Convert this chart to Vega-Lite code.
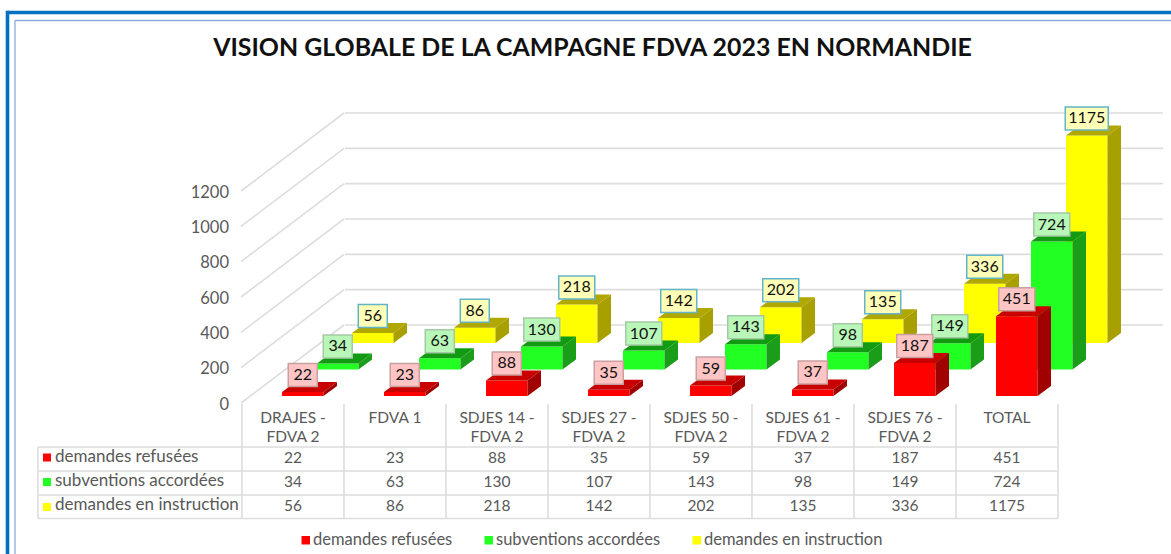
{"$schema":"https://vega.github.io/schema/vega-lite/v6.json","width":1171,"height":554,"padding":0,"autosize":{"type":"none"},"background":"#ffffff",
"title":{"text":"VISION GLOBALE DE LA CAMPAGNE FDVA 2023 EN NORMANDIE","anchor":"middle","frame":"group","offset":-61,"dx":7,"font":"Lato","fontSize":24.9,"fontWeight":"bold","color":"#111111"},
"config":{"view":{"stroke":null},"font":"Lato","text":{"font":"Lato"},"point":{"filled":true,"opacity":1,"size":4,"strokeWidth":0}},
"datasets":{
"bars":[
{"cat":"DRAJES  -\nFDVA 2","series":"demandes refusées","v":22},{"cat":"FDVA 1","series":"demandes refusées","v":23},{"cat":"SDJES 14 -\nFDVA 2","series":"demandes refusées","v":88},{"cat":"SDJES 27 -\nFDVA 2","series":"demandes refusées","v":35},{"cat":"SDJES 50 -\nFDVA 2","series":"demandes refusées","v":59},{"cat":"SDJES 61 -\nFDVA 2","series":"demandes refusées","v":37},{"cat":"SDJES 76 -\nFDVA 2","series":"demandes refusées","v":187},{"cat":"TOTAL","series":"demandes refusées","v":451}],
"greens":[
{"cat":"DRAJES  -\nFDVA 2","series":"subventions accordées","v":34},{"cat":"FDVA 1","series":"subventions accordées","v":63},{"cat":"SDJES 14 -\nFDVA 2","series":"subventions accordées","v":130},{"cat":"SDJES 27 -\nFDVA 2","series":"subventions accordées","v":107},{"cat":"SDJES 50 -\nFDVA 2","series":"subventions accordées","v":143},{"cat":"SDJES 61 -\nFDVA 2","series":"subventions accordées","v":98},{"cat":"SDJES 76 -\nFDVA 2","series":"subventions accordées","v":149},{"cat":"TOTAL","series":"subventions accordées","v":724}],
"yellows":[
{"cat":"DRAJES  -\nFDVA 2","series":"demandes en instruction","v":56},{"cat":"FDVA 1","series":"demandes en instruction","v":86},{"cat":"SDJES 14 -\nFDVA 2","series":"demandes en instruction","v":218},{"cat":"SDJES 27 -\nFDVA 2","series":"demandes en instruction","v":142},{"cat":"SDJES 50 -\nFDVA 2","series":"demandes en instruction","v":202},{"cat":"SDJES 61 -\nFDVA 2","series":"demandes en instruction","v":135},{"cat":"SDJES 76 -\nFDVA 2","series":"demandes en instruction","v":336},{"cat":"TOTAL","series":"demandes en instruction","v":1175}],
"grid":[{"v":0},{"v":200},{"v":400},{"v":600},{"v":800},{"v":1000},{"v":1200}],
"one":[{"k":1}]
},
"layer":[
{"data":{"name":"one"},"mark":{"type":"rule","color":"#0070c0","strokeWidth":3.6,"xOffset":-234.5,"x2Offset":300},"encoding":{"x":{"datum":"DRAJES  -\nFDVA 2","bandPosition":0,"type":"nominal","axis":null,"scale":{"type":"band","domain":["DRAJES  -\nFDVA 2","FDVA 1","SDJES 14 -\nFDVA 2","SDJES 27 -\nFDVA 2","SDJES 50 -\nFDVA 2","SDJES 61 -\nFDVA 2","SDJES 76 -\nFDVA 2","TOTAL"],"range":[242,1058],"paddingInner":0,"paddingOuter":0}},"x2":{"datum":"TOTAL"},"y":{"datum":2210,"type":"quantitative","axis":null,"scale":{"type":"linear","domain":[0,1200],"range":[403,191],"nice":false,"zero":false}}}},
{"data":{"name":"one"},"mark":{"type":"rule","color":"#0070c0","strokeWidth":3.6,"xOffset":-234.5},"encoding":{"x":{"datum":"DRAJES  -\nFDVA 2","bandPosition":0,"type":"nominal","axis":null},"y":{"datum":2220,"type":"quantitative","axis":null},"y2":{"datum":-1000}}},
{"data":{"name":"one"},"mark":{"type":"rule","color":"#8eaadb","strokeWidth":1.3,"xOffset":-227,"x2Offset":300},"encoding":{"x":{"datum":"DRAJES  -\nFDVA 2","bandPosition":0,"type":"nominal","axis":null},"x2":{"datum":"TOTAL"},"y":{"datum":2165,"type":"quantitative","axis":null}}},
{"data":{"name":"one"},"mark":{"type":"rule","color":"#8eaadb","strokeWidth":1.3,"xOffset":-227},"encoding":{"x":{"datum":"DRAJES  -\nFDVA 2","bandPosition":0,"type":"nominal","axis":null},"y":{"datum":2165,"type":"quantitative","axis":null},"y2":{"datum":-1000}}},

{"data":{"name":"grid"},"mark":{"type":"rule","color":"#dddddd","strokeWidth":1.6,"xOffset":-1,"x2Offset":-51},"encoding":{"x":{"datum":"DRAJES  -\nFDVA 2","bandPosition":0,"type":"nominal","axis":null},"x2":{"datum":"FDVA 1"},"y":{"field":"v","type":"quantitative","axis":null},"y2":{"value":{"expr":"scale('y',datum.v)-78"}}}},
{"data":{"name":"grid"},"mark":{"type":"rule","color":"#dddddd","strokeWidth":1.6,"yOffset":-78,"xOffset":103,"x2Offset":156},"encoding":{"x":{"datum":"DRAJES  -\nFDVA 2","bandPosition":0,"type":"nominal","axis":null},"x2":{"datum":"TOTAL"},"y":{"field":"v","type":"quantitative","axis":null}}},
{"data":{"name":"grid"},"mark":{"type":"text","font":"Lato","fontSize":16.5,"color":"#595959","align":"right","baseline":"middle","xOffset":-13,"yOffset":1.5},"encoding":{"x":{"datum":"DRAJES  -\nFDVA 2","bandPosition":0,"type":"nominal","axis":null},"y":{"field":"v","type":"quantitative","axis":null},"text":{"field":"v","type":"quantitative","format":"d"}}},

{"data":{"name":"yellows"},"mark":{"type":"bar","width":41.5,"xOffset":79.75,"yOffset":-60,"y2Offset":-60},"encoding":{"x":{"field":"cat","type":"nominal","axis":null},"y":{"field":"v","type":"quantitative","stack":null,"axis":null},"y2":{"datum":0},"color":{"field":"series","type":"nominal","scale":{"domain":["demandes refusées","subventions accordées","demandes en instruction"],"range":["#ff0000","#22ff22","#ffff00"]},"legend":{"orient":"none","legendX":297.5,"legendY":532,"direction":"horizontal","columns":3,"title":null,"symbolType":"square","symbolSize":72,"symbolStrokeWidth":0,"symbolOpacity":1,"labelFont":"Lato","labelFontSize":16.5,"labelColor":"#595959","labelLimit":300,"labelOffset":-1,"columnPadding":28,"gridAlign":"none"}}}},
{"data":{"name":"yellows"},"mark":{"type":"point","color":"#b0a800","xOffset":79.75,"yOffset":-60,"shape":"M-20.75,0L20.75,0L34.25,-10L-7.25,-10Z"},"encoding":{"x":{"field":"cat","type":"nominal","axis":null},"y":{"field":"v","type":"quantitative","axis":null}}},
{"data":{"name":"yellows"},"mark":{"type":"point","color":"#a8a000","xOffset":79.75,"yOffset":-60,"shape":{"expr":"'M20.75,0L34.25,-10L34.25,'+(scale('y',0)-scale('y',datum.v)-10)+'L20.75,'+(scale('y',0)-scale('y',datum.v))+'Z'"}},"encoding":{"x":{"field":"cat","type":"nominal","axis":null},"y":{"field":"v","type":"quantitative","axis":null}}},

{"data":{"name":"greens"},"mark":{"type":"bar","width":41.5,"xOffset":44.75,"yOffset":-33.5,"y2Offset":-33.5},"encoding":{"x":{"field":"cat","type":"nominal","axis":null},"y":{"field":"v","type":"quantitative","stack":null,"axis":null},"y2":{"datum":0},"color":{"field":"series","type":"nominal"}}},
{"data":{"name":"greens"},"mark":{"type":"point","color":"#129a12","xOffset":44.75,"yOffset":-33.5,"shape":"M-20.75,0L20.75,0L34.25,-10L-7.25,-10Z"},"encoding":{"x":{"field":"cat","type":"nominal","axis":null},"y":{"field":"v","type":"quantitative","axis":null}}},
{"data":{"name":"greens"},"mark":{"type":"point","color":"#1a9e1a","xOffset":44.75,"yOffset":-33.5,"shape":{"expr":"'M20.75,0L34.25,-10L34.25,'+(scale('y',0)-scale('y',datum.v)-10)+'L20.75,'+(scale('y',0)-scale('y',datum.v))+'Z'"}},"encoding":{"x":{"field":"cat","type":"nominal","axis":null},"y":{"field":"v","type":"quantitative","axis":null}}},

{"data":{"name":"bars"},"mark":{"type":"bar","width":41.5,"xOffset":9.75,"yOffset":-7,"y2Offset":-7},"encoding":{"x":{"field":"cat","type":"nominal","axis":null},"y":{"field":"v","type":"quantitative","stack":null,"axis":null},"y2":{"datum":0},"color":{"field":"series","type":"nominal"}}},
{"data":{"name":"bars"},"mark":{"type":"point","color":"#c80000","xOffset":9.75,"yOffset":-7,"shape":"M-20.75,0L20.75,0L34.25,-10L-7.25,-10Z"},"encoding":{"x":{"field":"cat","type":"nominal","axis":null},"y":{"field":"v","type":"quantitative","axis":null}}},
{"data":{"name":"bars"},"mark":{"type":"point","color":"#a00000","xOffset":9.75,"yOffset":-7,"shape":{"expr":"'M20.75,0L34.25,-10L34.25,'+(scale('y',0)-scale('y',datum.v)-10)+'L20.75,'+(scale('y',0)-scale('y',datum.v))+'Z'"}},"encoding":{"x":{"field":"cat","type":"nominal","axis":null},"y":{"field":"v","type":"quantitative","axis":null}}},

{"data":{"name":"yellows"},"mark":{"type":"point","fill":"#ffffb8","stroke":"#62b5c9","strokeWidth":1.5,"xOffset":79.75,"yOffset":-77,"shape":{"expr":"'M'+(-(length(toString(datum.v))*7+15)/2)+',-11.5H'+((length(toString(datum.v))*7+15)/2)+'V11.5H'+(-(length(toString(datum.v))*7+15)/2)+'Z'"}},"encoding":{"x":{"field":"cat","type":"nominal","axis":null},"y":{"field":"v","type":"quantitative","axis":null}}},
{"data":{"name":"yellows"},"mark":{"type":"text","font":"Lato","fontSize":16,"color":"#111111","xOffset":79.75,"yOffset":-77,"baseline":"middle"},"encoding":{"x":{"field":"cat","type":"nominal","axis":null},"y":{"field":"v","type":"quantitative","axis":null},"text":{"field":"v","type":"quantitative","format":"d"}}},
{"data":{"name":"greens"},"mark":{"type":"point","fill":"#b8f7b8","stroke":"#a5c9a5","strokeWidth":1.5,"xOffset":44.75,"yOffset":-50.5,"shape":{"expr":"'M'+(-(length(toString(datum.v))*7+15)/2)+',-11.5H'+((length(toString(datum.v))*7+15)/2)+'V11.5H'+(-(length(toString(datum.v))*7+15)/2)+'Z'"}},"encoding":{"x":{"field":"cat","type":"nominal","axis":null},"y":{"field":"v","type":"quantitative","axis":null}}},
{"data":{"name":"greens"},"mark":{"type":"text","font":"Lato","fontSize":16,"color":"#111111","xOffset":44.75,"yOffset":-50.5,"baseline":"middle"},"encoding":{"x":{"field":"cat","type":"nominal","axis":null},"y":{"field":"v","type":"quantitative","axis":null},"text":{"field":"v","type":"quantitative","format":"d"}}},
{"data":{"name":"bars"},"mark":{"type":"point","fill":"#ffc4c4","stroke":"#c9a0a0","strokeWidth":1.5,"xOffset":9.75,"yOffset":-24,"shape":{"expr":"'M'+(-(length(toString(datum.v))*7+15)/2)+',-11.5H'+((length(toString(datum.v))*7+15)/2)+'V11.5H'+(-(length(toString(datum.v))*7+15)/2)+'Z'"}},"encoding":{"x":{"field":"cat","type":"nominal","axis":null},"y":{"field":"v","type":"quantitative","axis":null}}},
{"data":{"name":"bars"},"mark":{"type":"text","font":"Lato","fontSize":16,"color":"#111111","xOffset":9.75,"yOffset":-24,"baseline":"middle"},"encoding":{"x":{"field":"cat","type":"nominal","axis":null},"y":{"field":"v","type":"quantitative","axis":null},"text":{"field":"v","type":"quantitative","format":"d"}}},

{"data":{"name":"bars"},"mark":{"type":"rule","color":"#dddddd","strokeWidth":1.6},"encoding":{"x":{"field":"cat","type":"nominal","bandPosition":0,"axis":null},"y":{"datum":-6,"type":"quantitative","axis":null},"y2":{"datum":-654}}},
{"data":{"name":"one"},"mark":{"type":"rule","color":"#dddddd","strokeWidth":1.6,"xOffset":51},"encoding":{"x":{"datum":"TOTAL","type":"nominal","axis":null},"y":{"datum":-6,"type":"quantitative","axis":null},"y2":{"datum":-654}}},
{"data":{"name":"one"},"mark":{"type":"rule","color":"#dddddd","strokeWidth":1.6,"xOffset":-204},"encoding":{"x":{"datum":"DRAJES  -\nFDVA 2","bandPosition":0,"type":"nominal","axis":null},"y":{"datum":-249,"type":"quantitative","axis":null},"y2":{"datum":-654}}},
{"data":{"name":"one"},"mark":{"type":"rule","color":"#dddddd","strokeWidth":1.6,"xOffset":-204,"x2Offset":51},"encoding":{"x":{"datum":"DRAJES  -\nFDVA 2","bandPosition":0,"type":"nominal","axis":null},"x2":{"datum":"TOTAL"},"y":{"datum":-249,"type":"quantitative","axis":null}}},
{"data":{"name":"one"},"mark":{"type":"rule","color":"#dddddd","strokeWidth":1.6,"xOffset":-204,"x2Offset":51},"encoding":{"x":{"datum":"DRAJES  -\nFDVA 2","bandPosition":0,"type":"nominal","axis":null},"x2":{"datum":"TOTAL"},"y":{"datum":-385,"type":"quantitative","axis":null}}},
{"data":{"name":"one"},"mark":{"type":"rule","color":"#dddddd","strokeWidth":1.6,"xOffset":-204,"x2Offset":51},"encoding":{"x":{"datum":"DRAJES  -\nFDVA 2","bandPosition":0,"type":"nominal","axis":null},"x2":{"datum":"TOTAL"},"y":{"datum":-521,"type":"quantitative","axis":null}}},
{"data":{"name":"one"},"mark":{"type":"rule","color":"#dddddd","strokeWidth":1.6,"xOffset":-204,"x2Offset":51},"encoding":{"x":{"datum":"DRAJES  -\nFDVA 2","bandPosition":0,"type":"nominal","axis":null},"x2":{"datum":"TOTAL"},"y":{"datum":-654,"type":"quantitative","axis":null}}},

{"data":{"name":"bars"},"mark":{"type":"text","font":"Lato","fontSize":15.5,"color":"#595959","baseline":"top","lineBreak":"\n","lineHeight":19,"yOffset":7.5},"encoding":{"x":{"field":"cat","type":"nominal","axis":null},"y":{"datum":0,"type":"quantitative","axis":null},"text":{"field":"cat","type":"nominal"}}},

{"data":{"name":"bars"},"mark":{"type":"text","font":"Lato","fontSize":15.5,"color":"#595959","baseline":"middle","yOffset":55},"encoding":{"x":{"field":"cat","type":"nominal","axis":null},"y":{"datum":0,"type":"quantitative","axis":null},"text":{"field":"v","type":"quantitative","format":"d"}}},
{"data":{"name":"greens"},"mark":{"type":"text","font":"Lato","fontSize":15.5,"color":"#595959","baseline":"middle","yOffset":79},"encoding":{"x":{"field":"cat","type":"nominal","axis":null},"y":{"datum":0,"type":"quantitative","axis":null},"text":{"field":"v","type":"quantitative","format":"d"}}},
{"data":{"name":"yellows"},"mark":{"type":"text","font":"Lato","fontSize":15.5,"color":"#595959","baseline":"middle","yOffset":103},"encoding":{"x":{"field":"cat","type":"nominal","axis":null},"y":{"datum":0,"type":"quantitative","axis":null},"text":{"field":"v","type":"quantitative","format":"d"}}},

{"data":{"name":"bars"},"transform":[{"filter":"datum.cat=='TOTAL'"}],"mark":{"type":"text","font":"Lato","fontSize":17,"color":"#595959","align":"left","baseline":"middle","xOffset":-187,"yOffset":54},"encoding":{"x":{"datum":"DRAJES  -\nFDVA 2","bandPosition":0,"type":"nominal","axis":null},"y":{"datum":0,"type":"quantitative","axis":null},"text":{"field":"series","type":"nominal"}}},
{"data":{"name":"greens"},"transform":[{"filter":"datum.cat=='TOTAL'"}],"mark":{"type":"text","font":"Lato","fontSize":17,"color":"#595959","align":"left","baseline":"middle","xOffset":-187,"yOffset":78},"encoding":{"x":{"datum":"DRAJES  -\nFDVA 2","bandPosition":0,"type":"nominal","axis":null},"y":{"datum":0,"type":"quantitative","axis":null},"text":{"field":"series","type":"nominal"}}},
{"data":{"name":"yellows"},"transform":[{"filter":"datum.cat=='TOTAL'"}],"mark":{"type":"text","font":"Lato","fontSize":17,"color":"#595959","align":"left","baseline":"middle","xOffset":-187,"yOffset":102},"encoding":{"x":{"datum":"DRAJES  -\nFDVA 2","bandPosition":0,"type":"nominal","axis":null},"y":{"datum":0,"type":"quantitative","axis":null},"text":{"field":"series","type":"nominal"}}},
{"data":{"name":"bars"},"transform":[{"filter":"datum.cat=='TOTAL'"}],"mark":{"type":"point","size":64,"shape":"square","xOffset":-195,"yOffset":54.5},"encoding":{"x":{"datum":"DRAJES  -\nFDVA 2","bandPosition":0,"type":"nominal","axis":null},"y":{"datum":0,"type":"quantitative","axis":null},"color":{"field":"series","type":"nominal"}}},
{"data":{"name":"greens"},"transform":[{"filter":"datum.cat=='TOTAL'"}],"mark":{"type":"point","size":64,"shape":"square","xOffset":-195,"yOffset":79},"encoding":{"x":{"datum":"DRAJES  -\nFDVA 2","bandPosition":0,"type":"nominal","axis":null},"y":{"datum":0,"type":"quantitative","axis":null},"color":{"field":"series","type":"nominal"}}},
{"data":{"name":"yellows"},"transform":[{"filter":"datum.cat=='TOTAL'"}],"mark":{"type":"point","size":64,"shape":"square","xOffset":-195,"yOffset":104},"encoding":{"x":{"datum":"DRAJES  -\nFDVA 2","bandPosition":0,"type":"nominal","axis":null},"y":{"datum":0,"type":"quantitative","axis":null},"color":{"field":"series","type":"nominal"}}}
]}
